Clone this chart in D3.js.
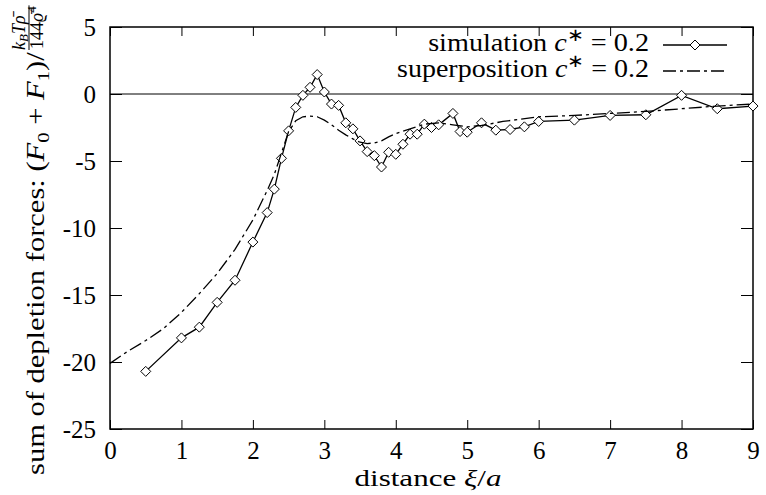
<!DOCTYPE html>
<html>
<head>
<meta charset="utf-8">
<script src="https://cdn.jsdelivr.net/npm/d3@7"></script>
<style>
  body { margin: 0; background: #fff; }
</style>
</head>
<body>
<svg id="chart" width="766" height="495"></svg>
<script>
// simulation c* = 0.2 (diamonds)
const simX = [0.5, 1.0, 1.25, 1.5, 1.75, 2.0, 2.2, 2.3, 2.4, 2.5, 2.6, 2.7, 2.8, 2.9, 3.0, 3.1, 3.2, 3.3, 3.4, 3.5,
  3.6, 3.7, 3.8, 3.9, 4.0, 4.1, 4.2, 4.3, 4.4, 4.5, 4.6, 4.8, 4.9, 5.0, 5.2, 5.4, 5.6, 5.8, 6.0, 6.5, 7.0, 7.5, 8.0, 8.5, 9.0]
const simY = [-20.7, -18.2, -17.4, -15.55, -13.9, -11.05, -8.85, -7.1, -4.8, -2.75, -1.0, -0.1, 0.5, 1.45, 0.15, -0.75, -0.85, -2.15, -2.6, -3.5,
  -4.3, -4.6, -5.45, -4.35, -4.5, -3.75, -3.0, -3.0, -2.25, -2.5, -2.3, -1.45, -2.8, -2.85, -2.15, -2.7, -2.65, -2.45, -2.05, -1.95, -1.6, -1.55, -0.1, -1.1, -0.9]

// superposition c* = 0.2 (dash-dot)
const supX = [0, 0.25, 0.5, 0.75, 1.0, 1.25, 1.5, 1.75, 2.0, 2.2, 2.3, 2.4, 2.5, 2.6, 2.7, 2.8, 2.9, 3.0, 3.1, 3.2, 3.3,
  3.4, 3.5, 3.6, 3.7, 3.8, 3.9, 4.0, 4.2, 4.4, 4.6, 4.8, 5.0, 5.2, 5.5, 6.0, 6.5, 7.0, 7.5, 8.0, 8.5, 9.0]
const supY = [-20.1, -19.2, -18.4, -17.5, -16.3, -14.9, -13.4, -11.6, -9.4, -7.2, -6.0, -4.4, -2.8, -2.0, -1.7, -1.65, -1.7, -1.95, -2.3, -2.7, -3.05,
  -3.35, -3.6, -3.7, -3.65, -3.5, -3.2, -2.95, -2.6, -2.25, -2.15, -2.3, -2.45, -2.35, -2.05, -1.7, -1.6, -1.45, -1.3, -1.1, -0.9, -0.75]

const xTicks = [0, 1, 2, 3, 4, 5, 6, 7, 8, 9]
const yTicks = [5, 0, -5, -10, -15, -20, -25]

const FONT = '"Liberation Serif"'
const svg = d3.select('#chart')
const plotL = 110, plotR = 753, plotT = 27, plotB = 429

const x = d3.scaleLinear().domain([0, 9]).range([plotL, plotR])
const y = d3.scaleLinear().domain([-25, 5]).range([plotB, plotT])

// stretch a text horizontally (about its anchor) so it spans `target` px
function fitWidth(sel, target, ax) {
  const w = sel.node().getBBox().width
  const s = target / w
  sel.attr('transform', `translate(${ax},0) scale(${s},1) translate(${-ax},0)`)
}

// axes (ticks point inward, mirrored on top/right)
const gx = svg.append('g').attr('transform', `translate(0,${plotB})`)
  .call(d3.axisBottom(x).tickValues(xTicks).tickSize(-9).tickPadding(12).tickFormat(d3.format('d')))
const gxt = svg.append('g').attr('transform', `translate(0,${plotT})`)
  .call(d3.axisTop(x).tickValues(xTicks).tickSize(-9).tickFormat(''))
const gy = svg.append('g').attr('transform', `translate(${plotL},0)`)
  .call(d3.axisLeft(y).tickValues(yTicks).tickSize(-12).tickPadding(14).tickFormat(d => String(d)))
const gyr = svg.append('g').attr('transform', `translate(${plotR},0)`)
  .call(d3.axisRight(y).tickValues(yTicks).tickSize(-12).tickFormat(''))

;[gx, gxt, gy, gyr].forEach(g => {
  g.attr('font-family', null).attr('font-size', null)
  g.select('.domain').remove()
  g.selectAll('line').attr('stroke', '#000').attr('stroke-width', 1)
  g.selectAll('text').style('font-family', FONT).style('font-size', '25px').attr('fill', '#000')
})

// zero line
svg.append('line')
  .attr('x1', plotL).attr('x2', plotR).attr('y1', y(0)).attr('y2', y(0))
  .attr('stroke', '#000').attr('stroke-width', 1)

// border
svg.append('rect')
  .attr('x', plotL).attr('y', plotT).attr('width', plotR - plotL).attr('height', plotB - plotT)
  .attr('fill', 'none').attr('stroke', '#000').attr('stroke-width', 1.5)

const line = d3.line().x(d => x(d[0])).y(d => y(d[1]))
const simData = simX.map((v, i) => [v, simY[i]])
const supData = supX.map((v, i) => [v, supY[i]])

svg.append('path').datum(simData)
  .attr('d', line).attr('fill', 'none').attr('stroke', '#000').attr('stroke-width', 1.3)

const diamond = 'M0,-5L5,0L0,5L-5,0Z'
svg.append('g').selectAll('path').data(simData).enter().append('path')
  .attr('d', diamond)
  .attr('transform', d => `translate(${x(d[0])},${y(d[1])})`)
  .attr('fill', '#fff').attr('stroke', '#000').attr('stroke-width', 1)

svg.append('path').datum(supData)
  .attr('d', line).attr('fill', 'none').attr('stroke', '#000').attr('stroke-width', 1.3)
  .attr('stroke-dasharray', '13,4,3,4')

// legend
function keyLabel(name, baseline, width) {
  const t = svg.append('text').attr('x', 649).attr('y', baseline).attr('text-anchor', 'end')
    .style('font-family', FONT).style('font-size', '25px')
  t.append('tspan').text(name + ' ')
  t.append('tspan').attr('font-style', 'italic').text('c')
  t.append('tspan').style('font-size', '18px').attr('dy', -10).text('∗')
  t.append('tspan').attr('dy', 10).text(' = 0.2')
  fitWidth(t, width, 649)
}
keyLabel('simulation', 51, 221)
svg.append('line').attr('x1', 663).attr('x2', 727).attr('y1', 45).attr('y2', 45)
  .attr('stroke', '#000').attr('stroke-width', 1.3)
svg.append('path').attr('d', diamond).attr('transform', 'translate(695,45)')
  .attr('fill', '#fff').attr('stroke', '#000')

keyLabel('superposition', 77, 252)
svg.append('line').attr('x1', 663).attr('x2', 727).attr('y1', 71).attr('y2', 71)
  .attr('stroke', '#000').attr('stroke-width', 1.3).attr('stroke-dasharray', '13,4,3,4')

// x label
const xl = svg.append('text').attr('x', 428).attr('y', 486).attr('text-anchor', 'middle')
  .style('font-family', FONT).style('font-size', '24px')
xl.append('tspan').text('distance ')
xl.append('tspan').attr('font-style', 'italic').text('ξ')
xl.append('tspan').text('/')
xl.append('tspan').attr('font-style', 'italic').text('a')
fitWidth(xl, 147, 428)

// y label (rotated), with stacked fraction at the end
const yl = svg.append('g').attr('transform', 'translate(44,475) rotate(-90)')
const main = yl.append('text').attr('x', 0).attr('y', 0)
  .style('font-family', FONT).style('font-size', '25px')
main.append('tspan').text('sum of depletion forces: (')
main.append('tspan').attr('font-style', 'italic').text('F')
main.append('tspan').style('font-size', '17px').attr('dy', 5).text('0')
main.append('tspan').attr('dy', -5).text(' + ')
main.append('tspan').attr('font-style', 'italic').text('F')
main.append('tspan').style('font-size', '17px').attr('dy', 5).text('1')
main.append('tspan').attr('dy', -5).text(')/')
fitWidth(main, 423, 0)
const w = 425

const num = yl.append('text').attr('x', w).attr('y', -19).style('font-family', FONT).style('font-size', '18px')
num.append('tspan').attr('font-style', 'italic').text('k')
num.append('tspan').attr('font-style', 'italic').style('font-size', '13px').attr('dy', 3).text('B')
num.append('tspan').attr('font-style', 'italic').attr('dy', -3).text('T')
num.append('tspan').attr('font-style', 'italic').text('ρ̄')
const den = yl.append('text').attr('x', w + 1).attr('y', -1).style('font-family', FONT).style('font-size', '18px')
den.append('tspan').text('144')
den.append('tspan').attr('font-style', 'italic').text('ϱ̄')
den.append('tspan').style('font-size', '13px').attr('dy', -7).text('4')
const fw = Math.max(num.node().getComputedTextLength(), den.node().getComputedTextLength() + 1)
yl.append('line').attr('x1', w).attr('x2', w + fw + 1).attr('y1', -15).attr('y2', -15)
  .attr('stroke', '#000').attr('stroke-width', 1)
</script>
</body>
</html>
